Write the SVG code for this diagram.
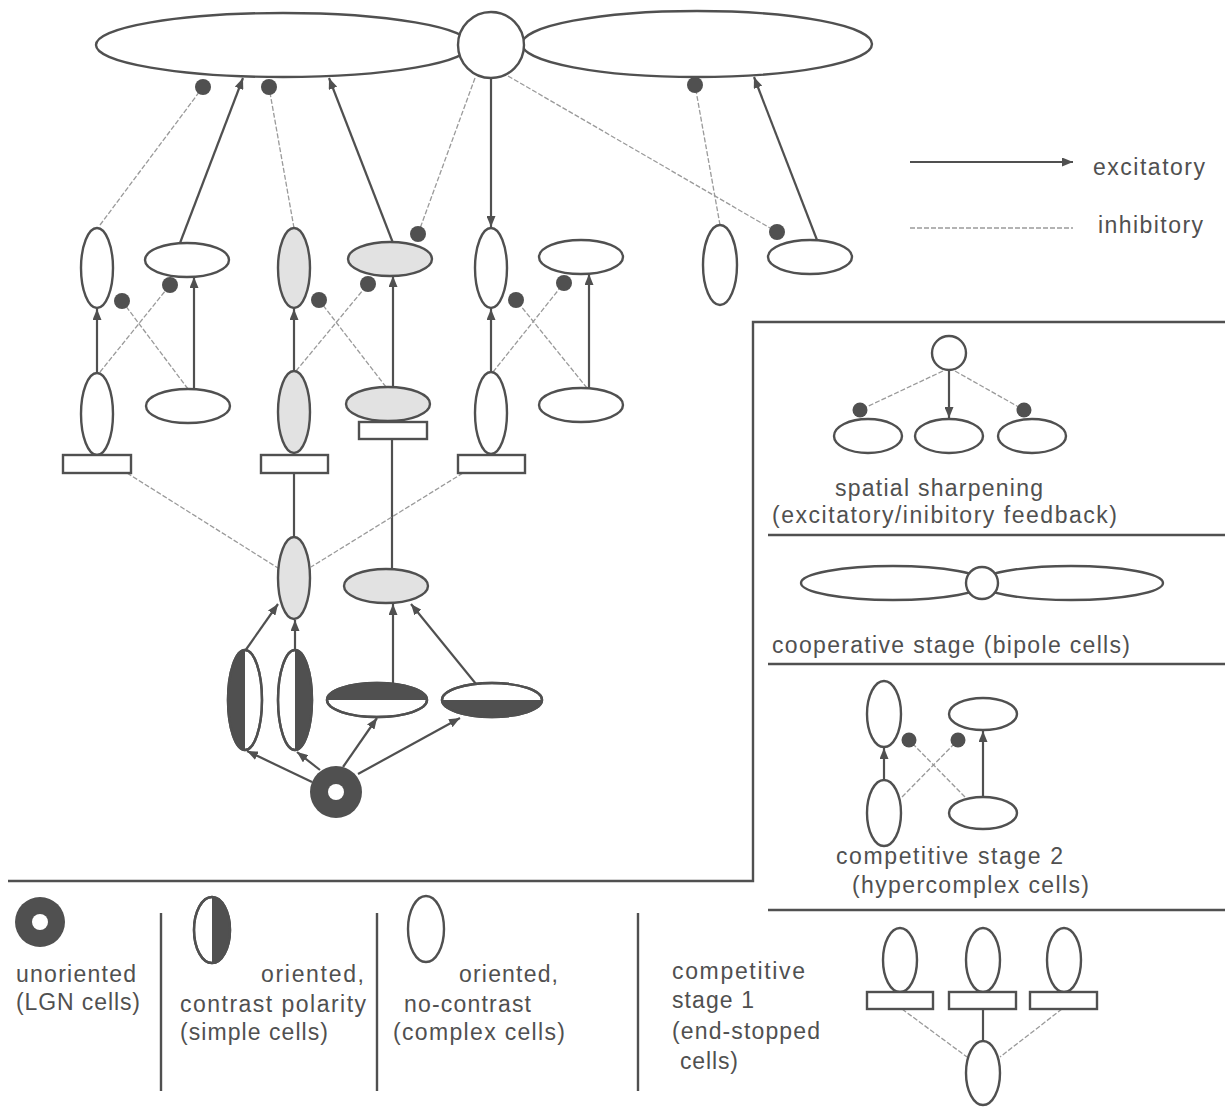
<svg xmlns="http://www.w3.org/2000/svg" width="1225" height="1107" viewBox="0 0 1225 1107">
<style>
.c{fill:#fff;stroke:#505050;stroke-width:2.4}
.g{fill:#e2e2e2;stroke:#505050;stroke-width:2.4}
.dk{fill:#505050;stroke:none}
.ex{fill:none;stroke:#505050;stroke-width:2.2;marker-end:url(#arr)}
.sl{fill:none;stroke:#505050;stroke-width:2.2}
.in{fill:none;stroke:#9a9a9a;stroke-width:1.3;stroke-dasharray:5 2;marker-end:url(#dot)}
.in2{fill:none;stroke:#9a9a9a;stroke-width:1.3;stroke-dasharray:5 2;marker-end:url(#dot2)}
.da{fill:none;stroke:#9a9a9a;stroke-width:1.3;stroke-dasharray:5 2}
.fr{fill:none;stroke:#505050;stroke-width:2.4}
text{font-family:"Liberation Sans",Arial,sans-serif;font-size:23px;fill:#505050}
</style>
<defs>
<marker id="arr" markerUnits="userSpaceOnUse" viewBox="0 0 11 9" markerWidth="11" markerHeight="9" refX="11" refY="4.5" orient="auto"><path d="M0,0 L11,4.5 L0,9 z" fill="#505050"/></marker>
<marker id="dot" markerUnits="userSpaceOnUse" viewBox="-9 -9 18 18" markerWidth="18" markerHeight="18" refX="0" refY="0"><circle r="8" fill="#505050"/></marker>
<marker id="dot2" markerUnits="userSpaceOnUse" viewBox="-9 -9 18 18" markerWidth="18" markerHeight="18" refX="0" refY="0"><circle r="7.5" fill="#505050"/></marker>
</defs>

<g id="frame">
<path class="fr" d="M1225,322 H753 V881 H8"/>
<path class="fr" d="M768,535 H1225 M768,664 H1225 M768,910 H1225"/>
<path class="fr" d="M161,913 V1091 M377,913 V1091 M638,913 V1091"/>
</g>

<g id="connectors">
<path class="ex" d="M180,243 L243,78"/>
<path class="ex" d="M393,243 L329,78"/>
<path class="ex" d="M491,78 L491,227"/>
<path class="ex" d="M817,240 L754,77"/>
<path class="ex" d="M97,373 L97,309"/>
<path class="ex" d="M194,389 L194,277"/>
<path class="ex" d="M294,371 L294,309"/>
<path class="ex" d="M393,387 L393,276"/>
<path class="ex" d="M491,373 L491,309"/>
<path class="ex" d="M589,388 L589,274"/>
<path class="ex" d="M245,651 L278,604"/>
<path class="ex" d="M295,651 L295,620"/>
<path class="ex" d="M393,683 L393,604"/>
<path class="ex" d="M476,684 L411,604"/>
<path class="ex" d="M312,782 L247,751"/>
<path class="ex" d="M320,770 L297,752"/>
<path class="ex" d="M343,767 L377,718"/>
<path class="ex" d="M358,774 L460,718"/>
<path class="ex" d="M949,371 L949,418"/>
<path class="ex" d="M884,781 L884,748"/>
<path class="ex" d="M983,797 L983,731"/>
<path class="sl" d="M294,473 L294,537"/>
<path class="sl" d="M392,439 L392,569"/>
<path class="sl" d="M983,1009 L983,1041"/>
<path class="in" d="M100,225 L203,87"/>
<path class="in" d="M294,228 L269,87"/>
<path class="in" d="M475,78 L418,234"/>
<path class="in" d="M508,76 L777,232"/>
<path class="in" d="M720,225 L695,85"/>
<path class="in" d="M100,372 L170,285"/>
<path class="in" d="M188,389 L122,301"/>
<path class="in" d="M296,371 L368,284"/>
<path class="in" d="M386,387 L319,300"/>
<path class="in" d="M493,372 L564,283"/>
<path class="in" d="M587,388 L516,300"/>
<path class="in2" d="M943,371 L860,410"/>
<path class="in2" d="M955,371 L1024,410"/>
<path class="in2" d="M902,797 L958,740"/>
<path class="in2" d="M965,797 L909,740"/>
<path class="da" d="M127,473 L278,568"/>
<path class="da" d="M463,473 L311,567"/>
<path class="da" d="M902,1009 L967,1057"/>
<path class="da" d="M1062,1009 L1000,1057"/>
</g>

<g id="bipole-top">
<ellipse class="c" cx="283" cy="45" rx="187" ry="32"/>
<ellipse class="c" cx="697" cy="44" rx="175" ry="33"/>
<circle class="c" cx="491" cy="45" r="33"/>
</g>

<g id="hc1-v"><ellipse class="c" cx="97" cy="268" rx="16" ry="40"/></g>
<g id="hc1-h"><ellipse class="c" cx="187" cy="260" rx="42" ry="17"/></g>
<g id="hc2-v"><ellipse class="g" cx="294" cy="268" rx="16" ry="40"/></g>
<g id="hc2-h"><ellipse class="g" cx="390" cy="259" rx="42" ry="17"/></g>
<g id="hc3-v"><ellipse class="c" cx="491" cy="268" rx="16" ry="40"/></g>
<g id="hc3-h"><ellipse class="c" cx="581" cy="257" rx="42" ry="17"/></g>
<g id="hc4-v"><ellipse class="c" cx="720" cy="265" rx="17" ry="40"/></g>
<g id="hc4-h"><ellipse class="c" cx="810" cy="257" rx="42" ry="17"/></g>

<g id="es1-v"><ellipse class="c" cx="97" cy="414" rx="16" ry="41"/><rect class="c" x="63" y="455" width="68" height="18"/></g>
<g id="es1-h"><ellipse class="c" cx="188" cy="406" rx="42" ry="17"/></g>
<g id="es2-v"><ellipse class="g" cx="294" cy="412" rx="16" ry="41"/><rect class="c" x="261" y="455" width="67" height="18"/></g>
<g id="es2-h"><ellipse class="g" cx="388" cy="404" rx="42" ry="17"/><rect class="c" x="359" y="422" width="68" height="17"/></g>
<g id="es3-v"><ellipse class="c" cx="491" cy="413" rx="16" ry="41"/><rect class="c" x="458" y="455" width="67" height="18"/></g>
<g id="es3-h"><ellipse class="c" cx="581" cy="405" rx="42" ry="17"/></g>

<g id="cx-v"><ellipse class="g" cx="294" cy="578" rx="16" ry="41"/></g>
<g id="cx-h"><ellipse class="g" cx="386" cy="586" rx="42" ry="17"/></g>

<g id="s1"><ellipse class="c" cx="245" cy="700" rx="17" ry="50"/><path class="dk" d="M245,650 A17,50 0 0,0 245,750 Z"/><ellipse class="c" style="fill:none" cx="245" cy="700" rx="17" ry="50"/></g>
<g id="s2"><ellipse class="c" cx="295" cy="700" rx="17" ry="50"/><path class="dk" d="M295,650 A17,50 0 0,1 295,750 Z"/><ellipse class="c" style="fill:none" cx="295" cy="700" rx="17" ry="50"/></g>
<g id="s3"><ellipse class="c" cx="377" cy="700" rx="50" ry="17"/><path class="dk" d="M327,700 A50,17 0 0,1 427,700 Z"/><ellipse class="c" style="fill:none" cx="377" cy="700" rx="50" ry="17"/></g>
<g id="s4"><ellipse class="c" cx="492" cy="700" rx="50" ry="17"/><path class="dk" d="M442,700 A50,17 0 0,0 542,700 Z"/><ellipse class="c" style="fill:none" cx="492" cy="700" rx="50" ry="17"/></g>

<g id="lgn"><circle class="dk" cx="336" cy="792" r="26"/><circle fill="#fff" cx="336" cy="792" r="8"/></g>

<g id="legend-lines">
<path class="sl" d="M910,162 L1073,162" marker-end="url(#arr)"/>
<path class="da" d="M910,228 L1073,228"/>
<text x="1093" y="175" textLength="112" lengthAdjust="spacing">excitatory</text>
<text x="1098" y="233" textLength="105" lengthAdjust="spacing">inhibitory</text>
</g>

<g id="panel-sharpening">
<circle class="c" cx="949" cy="353" r="17"/>
<ellipse class="c" cx="868" cy="436" rx="34" ry="17"/>
<ellipse class="c" cx="949" cy="436" rx="34" ry="17"/>
<ellipse class="c" cx="1032" cy="436" rx="34" ry="17"/>
<text x="835" y="496" textLength="208" lengthAdjust="spacing">spatial sharpening</text>
<text x="772" y="523" textLength="345" lengthAdjust="spacing">(excitatory/inibitory feedback)</text>
</g>

<g id="panel-bipole">
<ellipse class="c" cx="893" cy="583" rx="92" ry="17"/>
<ellipse class="c" cx="1071" cy="583" rx="92" ry="17"/>
<circle class="c" cx="982" cy="583" r="16"/>
<text x="772" y="653" textLength="358" lengthAdjust="spacing">cooperative stage (bipole cells)</text>
</g>

<g id="panel-stage2">
<ellipse class="c" cx="884" cy="714" rx="17" ry="33"/>
<ellipse class="c" cx="884" cy="813" rx="17" ry="33"/>
<ellipse class="c" cx="983" cy="714" rx="34" ry="16"/>
<ellipse class="c" cx="983" cy="813" rx="34" ry="16"/>
<text x="836" y="864" textLength="227" lengthAdjust="spacing">competitive stage 2</text>
<text x="852" y="893" textLength="237" lengthAdjust="spacing">(hypercomplex cells)</text>
</g>

<g id="panel-stage1">
<ellipse class="c" cx="900" cy="960" rx="17" ry="32"/>
<ellipse class="c" cx="983" cy="960" rx="17" ry="32"/>
<ellipse class="c" cx="1064" cy="960" rx="17" ry="32"/>
<rect class="c" x="867" y="992" width="66" height="17"/>
<rect class="c" x="949" y="992" width="67" height="17"/>
<rect class="c" x="1030" y="992" width="67" height="17"/>
<ellipse class="c" cx="983" cy="1073" rx="17" ry="32"/>
<text x="672" y="979" textLength="133" lengthAdjust="spacing">competitive</text>
<text x="672" y="1008" textLength="82" lengthAdjust="spacing">stage 1</text>
<text x="672" y="1039" textLength="148" lengthAdjust="spacing">(end-stopped</text>
<text x="680" y="1069" textLength="58" lengthAdjust="spacing">cells)</text>
</g>

<g id="legend-lgn">
<circle class="dk" cx="40" cy="922" r="25"/><circle fill="#fff" cx="40" cy="922" r="8"/>
<text x="16" y="982" textLength="120" lengthAdjust="spacing">unoriented</text>
<text x="16" y="1010" textLength="124" lengthAdjust="spacing">(LGN cells)</text>
</g>

<g id="legend-simple">
<ellipse class="c" cx="212" cy="930" rx="18" ry="33"/>
<path class="dk" d="M212,897 A18,33 0 0,1 212,963 Z"/>
<ellipse class="c" style="fill:none" cx="212" cy="930" rx="18" ry="33"/>
<text x="261" y="982" textLength="103" lengthAdjust="spacing">oriented,</text>
<text x="180" y="1012" textLength="186" lengthAdjust="spacing">contrast polarity</text>
<text x="180" y="1040" textLength="148" lengthAdjust="spacing">(simple cells)</text>
</g>

<g id="legend-complex">
<ellipse class="c" cx="426" cy="929" rx="18" ry="33"/>
<text x="459" y="982" textLength="99" lengthAdjust="spacing">oriented,</text>
<text x="404" y="1012" textLength="127" lengthAdjust="spacing">no-contrast</text>
<text x="393" y="1040" textLength="172" lengthAdjust="spacing">(complex cells)</text>
</g>
</svg>
